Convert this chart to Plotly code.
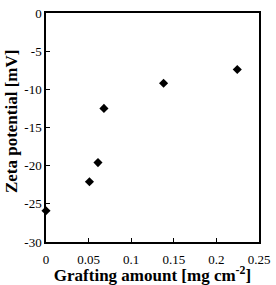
import plotly.graph_objects as go

grafting_amount = [0.0, 0.051, 0.061, 0.068, 0.138, 0.2245]
zeta_potential = [-25.9, -22.1, -19.6, -12.5, -9.2, -7.4]

x_ticks = [0, 0.05, 0.1, 0.15, 0.2, 0.25]
x_tick_labels = ["0", "0.05", "0.1", "0.15", "0.2", "0.25"]
y_ticks = [0, -5, -10, -15, -20, -25, -30]
y_tick_labels = ["0", "-5", "-10", "-15", "-20", "-25", "-30"]

font_family = "Liberation Serif, Times New Roman, serif"

fig = go.Figure()
fig.add_trace(go.Scatter(
    x=grafting_amount, y=zeta_potential, mode="markers",
    marker=dict(symbol="diamond", size=7, color="black"),
    cliponaxis=False, showlegend=False,
))

fig.update_layout(
    width=276, height=285,
    margin=dict(l=46, r=13, t=6, b=43),
    paper_bgcolor="white", plot_bgcolor="white",
    font=dict(family=font_family, color="black", size=13),
    annotations=[dict(
        text="<b>Zeta potential [mV]</b>", textangle=-90,
        xref="paper", yref="paper", x=-0.162, y=0.53,
        xanchor="center", yanchor="middle", showarrow=False,
        font=dict(size=17),
    )],
)
fig.update_xaxes(
    range=[0, 0.25], tickvals=x_ticks, ticktext=x_tick_labels,
    showgrid=False, zeroline=False,
    showline=True, linecolor="black", linewidth=1.5, mirror=True,
    ticks="inside", ticklen=4, tickcolor="black", tickwidth=1,
    tickfont=dict(size=13), ticklabelstandoff=5,
    title=dict(text="<b>Grafting amount [mg cm<sup>-2</sup>]</b>", font=dict(size=17), standoff=0),
)
fig.update_yaxes(
    range=[-30, 0], tickvals=y_ticks, ticktext=y_tick_labels,
    showgrid=False, zeroline=False,
    showline=True, linecolor="black", linewidth=1.5, mirror=True,
    ticks="inside", ticklen=4, tickcolor="black", tickwidth=1,
    tickfont=dict(size=13),
)

fig.write_html(
    "out.html",
    config={"displayModeBar": False},
    post_script="document.body.style.margin='0px';document.body.style.overflow='hidden';",
)
